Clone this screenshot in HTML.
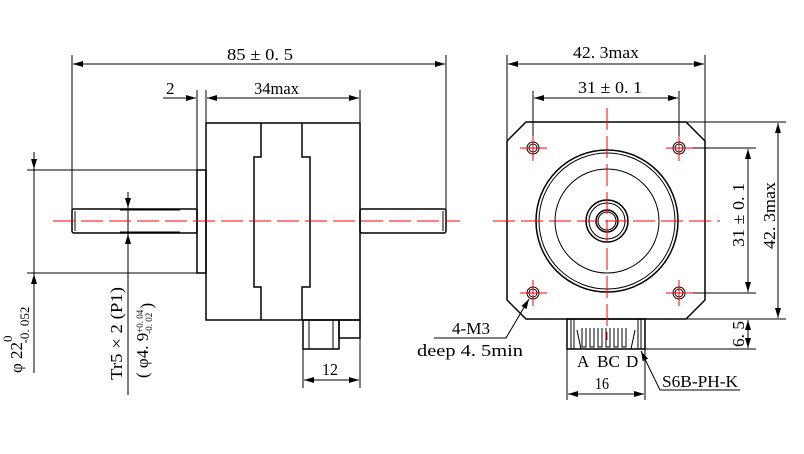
<!DOCTYPE html>
<html><head><style>
html,body{margin:0;padding:0;background:#fff;}
svg{display:block;}
text{font-family:"Liberation Serif","Noto Serif CJK SC",serif;font-size:17px;fill:#000;}
</style></head><body>
<svg width="804" height="454" viewBox="0 0 804 454" xmlns="http://www.w3.org/2000/svg">
<defs>
<marker id="a" viewBox="0 0 10 6" refX="10" refY="3" markerWidth="10" markerHeight="6" orient="auto-start-reverse" markerUnits="userSpaceOnUse"><path d="M0,0L10,3L0,6z" fill="#000"/></marker>
</defs>
<g stroke="#000" fill="none" stroke-width="1">
<line x1="72" y1="55" x2="72" y2="210"/>
<line x1="446" y1="55" x2="446" y2="210"/>
<line x1="73" y1="64" x2="445" y2="64" marker-start="url(#a)" marker-end="url(#a)"/>
<line x1="197" y1="90" x2="197" y2="170"/>
<line x1="206" y1="90" x2="206" y2="123"/>
<line x1="360" y1="90" x2="360" y2="123"/>
<line x1="163" y1="98" x2="196" y2="98" marker-end="url(#a)"/>
<line x1="207" y1="98" x2="359" y2="98" marker-start="url(#a)" marker-end="url(#a)"/>
<rect x="206" y="123" width="154" height="197" stroke-width="1.5"/>
<path d="M261 123V157H254V287H261V320M302 123V157H310V287H302V320" stroke-width="1.5"/>
<rect x="197" y="170" width="9" height="103" stroke-width="1.5"/>
<rect x="72" y="209" width="125" height="24" rx="2" stroke-width="1.5"/>
<line x1="75" y1="211" x2="75" y2="231"/>
<line x1="120" y1="210" x2="180" y2="210"/>
<line x1="120" y1="232" x2="180" y2="232"/>
<rect x="360" y="209" width="86" height="24" rx="2" stroke-width="1.5"/>
<line x1="443" y1="211" x2="443" y2="231"/>
<rect x="303" y="320" width="36" height="29" stroke-width="1.5"/>
<line x1="309" y1="320" x2="309" y2="349"/>
<line x1="333" y1="320" x2="333" y2="349"/>
<rect x="339" y="320" width="21" height="18" stroke-width="1.5"/>
<line x1="303" y1="349" x2="303" y2="388"/>
<line x1="360" y1="338" x2="360" y2="388"/>
<line x1="304" y1="380" x2="359" y2="380" marker-start="url(#a)" marker-end="url(#a)"/>
<line x1="27" y1="170" x2="197" y2="170"/>
<line x1="27" y1="273" x2="197" y2="273"/>
<line x1="34" y1="152" x2="34" y2="169" marker-end="url(#a)"/>
<line x1="34" y1="274" x2="34" y2="373" marker-start="url(#a)"/>
<line x1="34" y1="169" x2="34" y2="274"/>
<line x1="128" y1="192" x2="128" y2="208" marker-end="url(#a)"/>
<line x1="128" y1="234" x2="128" y2="395" marker-start="url(#a)"/>
<line x1="128" y1="208" x2="128" y2="234"/>
<line x1="507" y1="55" x2="507" y2="140"/>
<line x1="705" y1="55" x2="705" y2="140"/>
<line x1="508" y1="64" x2="704" y2="64" marker-start="url(#a)" marker-end="url(#a)"/>
<line x1="533" y1="91" x2="533" y2="148"/>
<line x1="679" y1="91" x2="679" y2="148"/>
<line x1="534" y1="98" x2="678" y2="98" marker-start="url(#a)" marker-end="url(#a)"/>
<path d="M526 122H686L705 141V300L686 319H526L507 300V141Z" stroke-width="1.5"/>
<circle cx="533" cy="148" r="6"/><circle cx="533" cy="148" r="4"/>
<circle cx="679" cy="148" r="6"/><circle cx="679" cy="148" r="4"/>
<circle cx="533" cy="293" r="6"/><circle cx="533" cy="293" r="4"/>
<circle cx="679" cy="293" r="6"/><circle cx="679" cy="293" r="4"/>
<circle cx="607" cy="221" r="71" stroke-width="1.5"/>
<circle cx="607" cy="221" r="68"/>
<circle cx="607" cy="221" r="52"/>
<circle cx="607" cy="221" r="21" stroke-width="1.5"/>
<circle cx="607" cy="221" r="18"/>
<circle cx="607" cy="221" r="11" stroke-width="1.5"/>
<circle cx="607" cy="221" r="9"/>
<line x1="679" y1="148" x2="756" y2="148"/>
<line x1="679" y1="293" x2="756" y2="293"/>
<line x1="686" y1="122" x2="786" y2="122"/>
<line x1="686" y1="319" x2="786" y2="319"/>
<line x1="748" y1="149" x2="748" y2="292" marker-start="url(#a)" marker-end="url(#a)"/>
<line x1="778" y1="123" x2="778" y2="318" marker-start="url(#a)" marker-end="url(#a)"/>
<line x1="645" y1="349" x2="756" y2="349"/>
<line x1="748" y1="320" x2="748" y2="348" marker-start="url(#a)" marker-end="url(#a)"/>
<rect x="567" y="319" width="78" height="30" stroke-width="1.5"/>
<path d="M571 319V349M574 319V349M638 319V349M641 319V349"/>
<path d="M577 330L581 349M635 330L631 349"/>
<path d="M582 328V347H586V328M590 328V347H594V328M598 328V347H602V328M606 328V347H610V328M614 328V347H618V328M622 328V347H626V328" />
<line x1="567" y1="349" x2="567" y2="400"/>
<line x1="645" y1="349" x2="645" y2="400"/>
<line x1="568" y1="394" x2="644" y2="394" marker-start="url(#a)" marker-end="url(#a)"/>
<path d="M434 338H506L529 299" marker-end="url(#a)"/>
<path d="M740 390H660L641 351" marker-end="url(#a)"/>
</g>
<g stroke="#f00" stroke-width="1" fill="none" stroke-dasharray="22,6">
<line x1="53" y1="221" x2="460" y2="221"/>
<line x1="493" y1="221" x2="720" y2="221"/>
<line x1="607" y1="108" x2="607" y2="340"/>
</g>
<g stroke="#f00" stroke-width="1">
<line x1="520" y1="148" x2="547" y2="148"/><line x1="533" y1="136" x2="533" y2="161"/>
<line x1="666" y1="148" x2="693" y2="148"/><line x1="679" y1="136" x2="679" y2="161"/>
<line x1="520" y1="293" x2="547" y2="293"/><line x1="533" y1="280" x2="533" y2="306"/>
<line x1="666" y1="293" x2="693" y2="293"/><line x1="679" y1="280" x2="679" y2="306"/>
</g>
<text x="227" y="60" textLength="66" lengthAdjust="spacingAndGlyphs">85 ± 0. 5</text>
<text x="166" y="94">2</text>
<text x="254" y="94" textLength="45" lengthAdjust="spacingAndGlyphs">34max</text>
<text x="322" y="375" textLength="16" lengthAdjust="spacingAndGlyphs">12</text>
<text transform="translate(22,373) rotate(-90)" font-size="19">φ 22<tspan font-size="13" dy="-10">0</tspan><tspan font-size="13" dx="-8" dy="17">-0. 052</tspan></text>
<text transform="translate(122,380) rotate(-90)" textLength="93" lengthAdjust="spacingAndGlyphs">Tr5 × 2 (P1)</text>
<text transform="translate(148,378) rotate(-90)" font-size="12">( φ4. 9<tspan font-size="9" dy="-5">+0. 04</tspan><tspan font-size="9" dx="-24" dy="9">-0. 02</tspan> )</text>
<text x="573" y="58" textLength="66" lengthAdjust="spacingAndGlyphs">42. 3max</text>
<text x="578" y="93" textLength="64" lengthAdjust="spacingAndGlyphs">31 ± 0. 1</text>
<text transform="translate(744,247) rotate(-90)" textLength="64" lengthAdjust="spacingAndGlyphs">31 ± 0. 1</text>
<text transform="translate(775,249) rotate(-90)" textLength="67" lengthAdjust="spacingAndGlyphs">42. 3max</text>
<text transform="translate(744,347) rotate(-90)" textLength="26" lengthAdjust="spacingAndGlyphs">6. 5</text>
<text x="452" y="334" textLength="38" lengthAdjust="spacingAndGlyphs">4-M3</text>
<text x="417" y="356" textLength="106" lengthAdjust="spacingAndGlyphs">deep 4. 5min</text>
<text x="577" y="367">A</text>
<text x="597" y="367" textLength="23" lengthAdjust="spacingAndGlyphs">BC</text>
<text x="626" y="367">D</text>
<text x="595" y="389" textLength="14" lengthAdjust="spacingAndGlyphs">16</text>
<text x="662" y="387" textLength="76" lengthAdjust="spacingAndGlyphs">S6B-PH-K</text>
</svg>
</body></html>
